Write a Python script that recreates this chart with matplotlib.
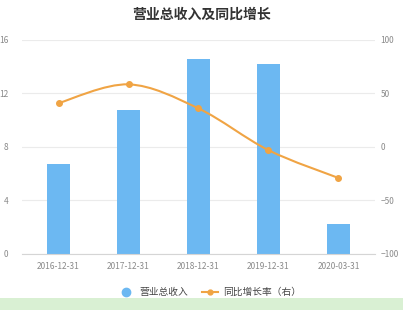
import matplotlib.pyplot as plt
import numpy as np
from matplotlib.path import Path
from matplotlib.patches import PathPatch, Rectangle

plt.rcParams['font.family'] = ['Noto Sans CJK SC', 'DejaVu Sans']

dates = ["2016-12-31", "2017-12-31", "2018-12-31", "2019-12-31", "2020-03-31"]
revenue = [6.7, 10.75, 14.55, 14.2, 2.25]
growth = [41.0, 58.5, 36.0, -3.0, -29.0]

BAR_COLOR = "#6cb8f2"
LINE_COLOR = "#f0a444"
TICK_COLOR = "#8a8a8a"


def smooth_path(xs, ys):
    # catmull-rom -> bezier, in data coordinates
    xs = np.asarray(xs, float)
    ys = np.asarray(ys, float)
    verts = [(xs[0], ys[0])]
    codes = [Path.MOVETO]
    n = len(xs)
    for i in range(n - 1):
        x0, y0 = (xs[i - 1], ys[i - 1]) if i > 0 else (xs[i], ys[i])
        x3, y3 = (xs[i + 2], ys[i + 2]) if i + 2 < n else (xs[i + 1], ys[i + 1])
        c1 = (xs[i] + (xs[i + 1] - x0) / 6, ys[i] + (ys[i + 1] - y0) / 6)
        c2 = (xs[i + 1] - (x3 - xs[i]) / 6, ys[i + 1] - (y3 - ys[i]) / 6)
        verts += [c1, c2, (xs[i + 1], ys[i + 1])]
        codes += [Path.CURVE4] * 3
    return PathPatch(Path(verts, codes), facecolor="none", edgecolor=LINE_COLOR,
                     lw=1.5, zorder=3)


fig = plt.figure(figsize=(4.03, 3.10), dpi=100)
fig.patch.set_facecolor("white")
fig.patches.append(Rectangle((0, 0), 1, 0.04, transform=fig.transFigure,
                             facecolor="#d9f0d3", edgecolor="none"))

ax = fig.add_axes([0.055, 0.181, 0.875, 0.690])
x = np.arange(len(dates))
ax.bar(x, revenue, width=0.33, color=BAR_COLOR, zorder=2, label="营业总收入")
ax.set_ylim(0, 16)
ax.set_yticks([0, 4, 8, 12, 16])
ax.set_xlim(-0.52, 4.52)
ax.set_xticks(x)
ax.set_xticklabels(dates)
ax.grid(axis="y", color="#ebebeb", lw=0.8, zorder=0)
for s in ["top", "right", "left"]:
    ax.spines[s].set_visible(False)
ax.spines["bottom"].set_color("#d5d5d5")
ax.tick_params(axis="both", length=0, labelsize=6, colors=TICK_COLOR)
ax.tick_params(axis="x", pad=6)
ax.tick_params(axis="y", pad=10)

ax2 = ax.twinx()
ax2.set_ylim(-100, 100)
ax2.set_yticks([-100, -50, 0, 50, 100])
ax2.add_patch(smooth_path(x, growth))
ax2.plot(x, growth, "o", color=LINE_COLOR, ms=4, zorder=4)
for s in ["top", "right", "left", "bottom"]:
    ax2.spines[s].set_visible(False)
ax2.tick_params(axis="y", length=0, labelsize=6, colors=TICK_COLOR, pad=4)

fig.text(0.5, 0.952, "营业总收入及同比增长", ha="center", va="center",
         fontsize=10, fontweight="bold", color="#333333")

h1 = plt.Line2D([], [], marker="o", ls="none", color=BAR_COLOR, ms=6)
h2 = plt.Line2D([], [], marker="o", color=LINE_COLOR, ms=3.5, lw=1.5)
fig.legend([h1, h2], ["营业总收入", "同比增长率（右）"], loc="center",
           bbox_to_anchor=(0.52, 0.058), ncol=2, frameon=False, fontsize=7,
           labelcolor="#444444", handlelength=1.6, columnspacing=1.5,
           handletextpad=0.5)

fig.savefig("out.png", dpi=100)
